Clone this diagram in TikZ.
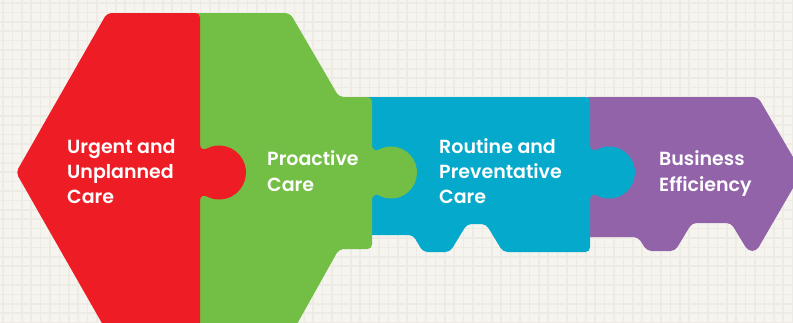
\documentclass[tikz,border=0pt]{standalone}
\usepackage{fontspec}
\setmainfont{Poppins}[BoldFont={* SemiBold}]
\definecolor{kred}{HTML}{EE1D25}
\definecolor{kgreen}{HTML}{73BF45}
\definecolor{kblue}{HTML}{05A9CB}
\definecolor{kpurple}{HTML}{9363AA}
\definecolor{bgc}{HTML}{F5F4EF}
\definecolor{gridc}{HTML}{EDEBE3}
\begin{document}
\begin{tikzpicture}[x=1pt,y=-1pt,
  lbl/.style={text=white, font=\bfseries\fontsize{19}{25}\selectfont, anchor=base west, inner sep=0pt},
  piece/.style={rounded corners=4.5pt}]
\useasboundingbox (0,0) rectangle (793,322);
\fill[bgc] (0,0) rectangle (793,322);
\foreach \i in {0,...,84} \draw[gridc,line width=1.6pt] (\i*9.4+3,0) -- (\i*9.4+3,322);
\foreach \j in {0,...,34} \draw[gridc,line width=1.6pt] (0,\j*9.4+3) -- (793,\j*9.4+3);
\begin{scope}
\clip (0,0) rectangle (793,322);
% purple
\fill[kpurple,piece] (584,97) -- (758,97) -- (802,172.5) -- (756.5,251) -- (748,251) -- (731,223) -- (692,223) -- (675,251) -- (647,251) -- (638,237) -- (584,237) -- cycle;
% blue
\fill[kblue,piece] (360,97) -- (590,97) -- (590,252) -- (503,252) -- (486,224) -- (467,224) -- (450,252) -- (423,252) -- (413,235) -- (360,235) -- cycle;
% blue tab
\fill[kblue] (585,146) -- (590,146) .. controls (590,148.5) and (593.4,151.5) .. (596,149.98) arc[start angle=-120,end angle=120,radius=26] .. controls (593.4,193.5) and (590,196.5) .. (590,199) -- (585,199) -- cycle;
% green
\fill[kgreen,piece] (150,13) -- (290,13) -- (339,97) -- (372,97) -- (372,249) -- (339,249) -- (292,333) -- (150,333) -- cycle;
% green tab
\fill[kgreen] (367,146) -- (372,146) .. controls (372,148.5) and (375.4,151.5) .. (378,149.98) arc[start angle=-120,end angle=120,radius=26] .. controls (375.4,193.5) and (372,196.5) .. (372,199) -- (367,199) -- cycle;
% red
\fill[kred,piece] (200,13) -- (107,13) -- (16,172.5) -- (107,332) -- (200,332) -- cycle;
% red tab
\fill[kred] (195,145) -- (200,145) .. controls (200,148) and (203.4,150.3) .. (206,148.84) arc[start angle=-118.8,end angle=118.8,radius=27] .. controls (203.4,194.7) and (200,197) .. (200,200) -- (195,200) -- cycle;
\end{scope}
% labels
\node[lbl] (u1) at (67,153) {Urgent and};
\node[lbl] (u2) at (67,178) {Unplanned};
\node[lbl] (u3) at (67,203) {Care};
\node[lbl] (p1) at (267,165) {Proactive};
\node[lbl] (p2) at (267,191) {Care};
\node[lbl] (r1) at (439,153) {Routine and};
\node[lbl] (r2) at (439,178) {Preventative};
\node[lbl] (r3) at (439,203) {Care};
\node[lbl] (b1) at (659,165) {Business};
\node[lbl] (b2) at (659,191) {Efficiency};
\end{tikzpicture}
\end{document}
